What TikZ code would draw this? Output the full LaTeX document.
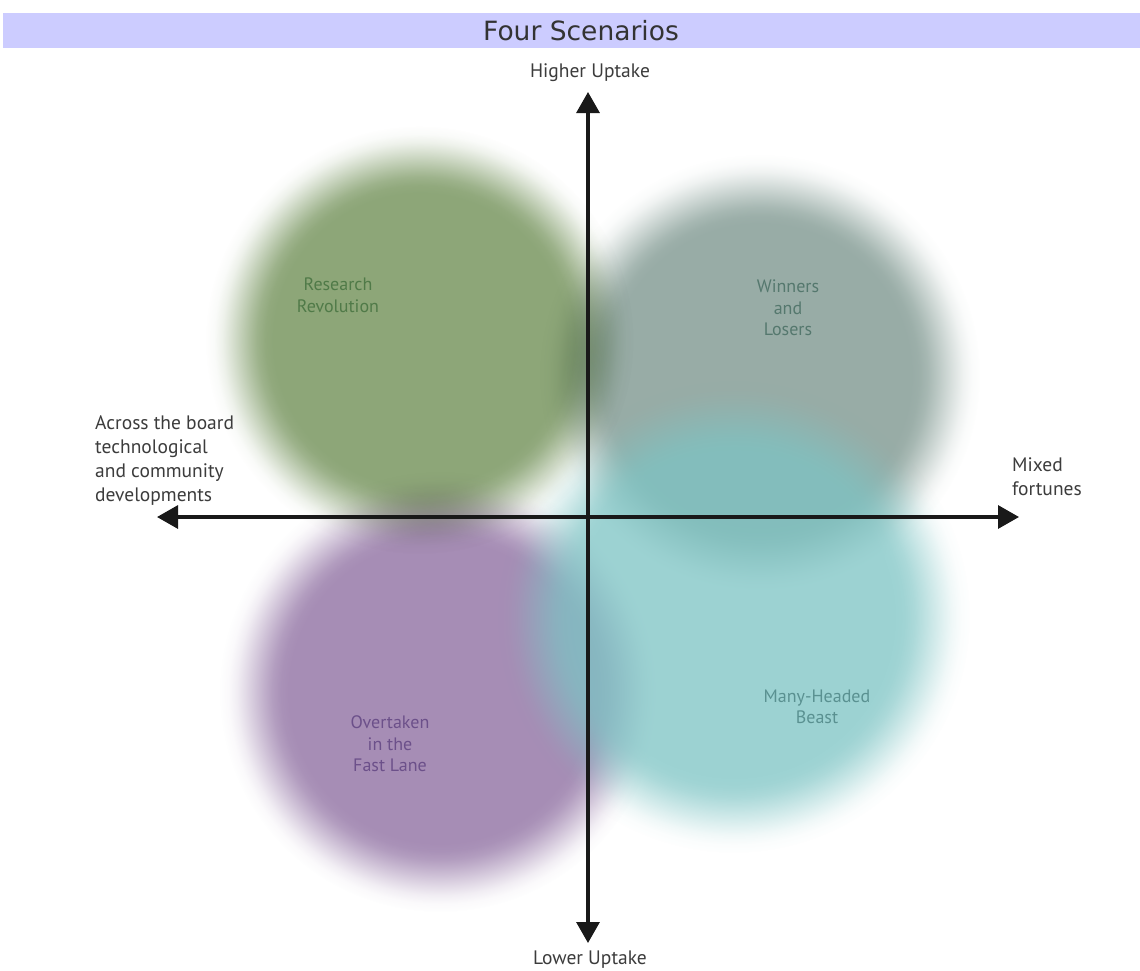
\documentclass[tikz,border=0pt]{standalone}
\usepackage{fontspec}
\setmainfont{PT Sans}
\newfontfamily\titlefont{DejaVu Sans}
\usetikzlibrary{fadings,arrows.meta}

% soft-edged disc: opaque core, smooth (blur-like) fall-off at the rim
\pgfdeclareradialshading{softdiscshade}{\pgfpointorigin}{%
  color(0bp)=(pgftransparent!0);
  color(17bp)=(pgftransparent!0);
  color(18bp)=(pgftransparent!4);
  color(19bp)=(pgftransparent!15);
  color(20bp)=(pgftransparent!32);
  color(21bp)=(pgftransparent!50);
  color(22bp)=(pgftransparent!68);
  color(23bp)=(pgftransparent!85);
  color(24bp)=(pgftransparent!96);
  color(25bp)=(pgftransparent!100);
  color(50bp)=(pgftransparent!100)}
\pgfdeclarefading{softdisc}{\pgfuseshading{softdiscshade}}

\definecolor{titlebar}{RGB}{204,204,255}
\definecolor{titleink}{RGB}{51,51,51}
\definecolor{axisink}{RGB}{25,25,25}
\definecolor{labelink}{RGB}{60,60,60}
\definecolor{rrgreen}{RGB}{141,166,120}
\definecolor{wlteal}{RGB}{152,172,166}
\definecolor{mhcyan}{RGB}{124,196,196}
\definecolor{otpurple}{RGB}{166,141,181}
\definecolor{rrtext}{RGB}{80,122,72}
\definecolor{wltext}{RGB}{85,120,110}
\definecolor{mhtext}{RGB}{90,145,145}
\definecolor{ottext}{RGB}{108,80,138}

\tikzset{
  blob/.style={fill=#1, path fading=softdisc},
  darkblob/.style={blob=#1, blend mode=multiply},
  veilblob/.style={blob=#1, fill opacity=0.75},
  axisline/.style={draw=axisink, line width=3.2pt,
    {Triangle[length=21pt,width=23pt]}-{Triangle[length=21pt,width=23pt]}},
  axislabel/.style={text=labelink, font=\fontsize{19.5}{24}\selectfont,
    inner sep=0pt},
  scenario/.style={text=#1, font=\fontsize{18}{21.5}\selectfont,
    align=center, inner sep=0pt},
}

\begin{document}
\begin{tikzpicture}[x=1pt,y=-1pt]
  \useasboundingbox (0,0) rectangle (1140,970);
  \fill[white] (0,0) rectangle (1140,970);

  % heading band
  \fill[titlebar] (3,13) rectangle (1140,48);
  \node[text=titleink, font=\titlefont\fontsize{26.5}{30}\selectfont,
        inner sep=0pt] (title) at (581,31) {Four Scenarios};

  % the four scenario discs (outer radius = half-tone radius / 0.84)
  \fill[blob=rrgreen]      (420,340) circle [radius=214pt];
  \fill[darkblob=wlteal]   (760,375) circle [radius=220pt];
  \fill[darkblob=otpurple] (440,692) circle [radius=220pt];
  \fill[veilblob=mhcyan]   (734,617) circle [radius=236pt];

  \node[scenario=rrtext] (rr) at (338,295) {Research\\Revolution};
  \node[scenario=wltext] (wl) at (788,308) {Winners\\and\\Losers};
  \node[scenario=ottext] (ot) at (390,744) {Overtaken\\in the\\Fast Lane};
  \node[scenario=mhtext] (mh) at (817,707) {Many-Headed\\Beast};

  % axes
  \coordinate (up)    at (588,92);
  \coordinate (down)  at (588,943);
  \coordinate (left)  at (157,517);
  \coordinate (right) at (1019,517);
  \draw[axisline] (down) -- (up);
  \draw[axisline] (left) -- (right);

  % axis captions
  \node[axislabel] (hi) at (590,73) {Higher Uptake};
  \node[axislabel] (lo) at (590,960) {Lower Uptake};
  \node[axislabel, anchor=west, align=left] (across) at (95,461)
    {Across the board\\technological\\and community\\developments};
  \node[axislabel, anchor=west, align=left] (mixed) at (1012,477)
    {Mixed\\fortunes};
\end{tikzpicture}
\end{document}
